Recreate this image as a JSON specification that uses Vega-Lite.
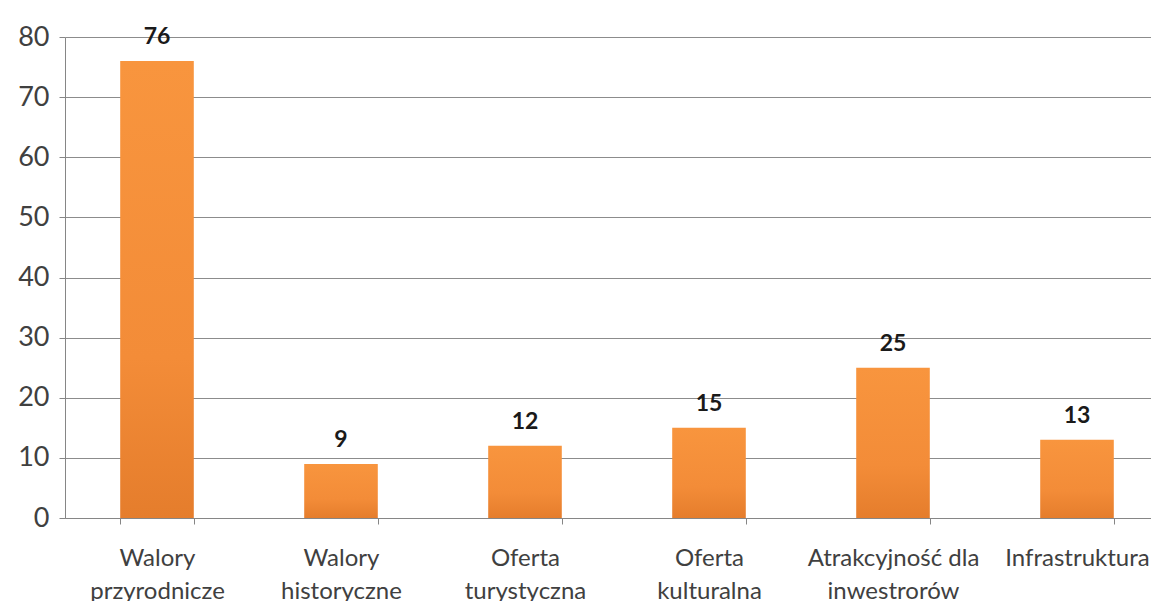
{
  "$schema": "https://vega.github.io/schema/vega-lite/v6.json",
  "width": 1104,
  "height": 481,
  "autosize": {"type": "none"},
  "padding": {"left": 65, "top": 37, "right": 0, "bottom": 83},
  "background": "white",
  "config": {
    "view": {"stroke": null},
    "font": "Lato"
  },
  "data": {
    "values": [
      {"kategoria": "Walory|przyrodnicze", "wartosc": 76},
      {"kategoria": "Walory|historyczne", "wartosc": 9},
      {"kategoria": "Oferta|turystyczna", "wartosc": 12},
      {"kategoria": "Oferta|kulturalna", "wartosc": 15},
      {"kategoria": "Atrakcyjność dla|inwestrorów", "wartosc": 25},
      {"kategoria": "Infrastruktura", "wartosc": 13}
    ]
  },
  "encoding": {
    "x": {
      "field": "kategoria",
      "type": "nominal",
      "sort": null,
      "scale": {"paddingInner": 0.6, "paddingOuter": 0.3},
      "axis": {
        "title": null,
        "labelAngle": 0,
        "labelExpr": "split(datum.label, '|')",
        "labelFontSize": 24,
        "labelColor": "#404040",
        "labelLineHeight": 33,
        "labelPadding": 22,
        "labelBaseline": "top",
        "domainColor": "#868686",
        "tickColor": "#868686",
        "tickSize": 6,
        "tickBand": "extent",
        "ticks": true,
        "labelOverlap": false,
        "labelBound": false
      }
    },
    "y": {
      "field": "wartosc",
      "type": "quantitative",
      "scale": {"domain": [0, 80], "nice": false},
      "axis": {
        "title": null,
        "values": [0, 10, 20, 30, 40, 50, 60, 70, 80],
        "labelFontSize": 27,
        "labelColor": "#404040",
        "labelPadding": 10,
        "gridColor": "#8c8c8c",
        "gridWidth": 1,
        "domainColor": "#868686",
        "tickColor": "#868686",
        "tickSize": 6
      }
    }
  },
  "layer": [
    {
      "mark": {
        "type": "bar",
        "color": {
          "gradient": "linear",
          "x1": 0, "y1": 0, "x2": 0, "y2": 1,
          "stops": [
            {"offset": 0, "color": "#f8953e"},
            {"offset": 0.65, "color": "#f38c38"},
            {"offset": 1, "color": "#e57d2c"}
          ]
        }
      }
    },
    {
      "mark": {
        "type": "text",
        "baseline": "bottom",
        "dy": -12,
        "fontSize": 23,
        "fontWeight": "bold",
        "color": "#1a1a1a"
      },
      "encoding": {
        "text": {"field": "wartosc", "type": "quantitative"}
      }
    }
  ]
}
